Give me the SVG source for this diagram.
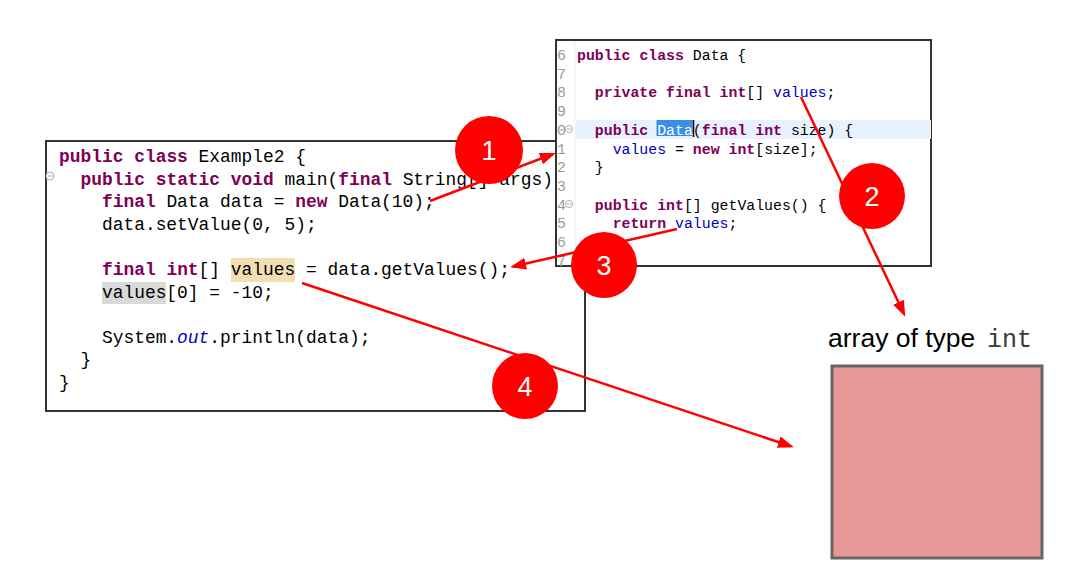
<svg xmlns="http://www.w3.org/2000/svg" width="1075" height="587" viewBox="0 0 1075 587">
<defs>
<style>
.box{fill:#fff;stroke:#333;stroke-width:2}
.cl{font-family:"Liberation Mono","DejaVu Sans Mono",monospace;font-size:17.9px;fill:#000}
.cr{font-family:"Liberation Mono","DejaVu Sans Mono",monospace;font-size:14.85px;fill:#000}
.ln{font-family:"Liberation Mono","DejaVu Sans Mono",monospace;font-size:14.85px;fill:#9a9a9a}
.k{fill:#7F0055;font-weight:bold}
.f{fill:#0000C0}
.fold{fill:#fff;stroke:#aab;stroke-width:1}
.con{stroke:#f00;stroke-width:2.5;fill:none;marker-end:url(#ah)}
.badge{fill:#f00}
.num{font-family:"Liberation Sans",Arial,sans-serif;font-size:27px;fill:#fff;text-anchor:middle}
</style>
<marker id="ah" markerUnits="userSpaceOnUse" viewBox="0 0 16 12" markerWidth="16" markerHeight="12" refX="13" refY="6" orient="auto">
<path d="M0,0 L16,6 L0,12 z" fill="#f00"/>
</marker>
<clipPath id="rclip"><rect x="556" y="40" width="375" height="226"/></clipPath>
</defs>

<g id="example2">
<rect class="box" x="46" y="141" width="539" height="270"/>
<rect x="231" y="258" width="64" height="24" fill="#F3DDB3"/>
<rect x="102" y="282" width="64" height="22" fill="#D9D9D9"/>
<g class="fold"><circle cx="50" cy="176" r="4"/><line x1="47.5" y1="176" x2="52.5" y2="176"/></g>
<text class="cl" xml:space="preserve" x="59" y="162"><tspan class="k">public</tspan> <tspan class="k">class</tspan> Example2 {</text>
<text class="cl" xml:space="preserve" x="59" y="184.6">  <tspan class="k">public</tspan> <tspan class="k">static</tspan> <tspan class="k">void</tspan> main(<tspan class="k">final</tspan> String[] args)</text>
<text class="cl" xml:space="preserve" x="59" y="207.2">    <tspan class="k">final</tspan> Data data = <tspan class="k">new</tspan> Data(10);</text>
<text class="cl" xml:space="preserve" x="59" y="229.8">    data.setValue(0, 5);</text>
<text class="cl" xml:space="preserve" x="59" y="275">    <tspan class="k">final</tspan> <tspan class="k">int</tspan>[] values = data.getValues();</text>
<text class="cl" xml:space="preserve" x="59" y="297.6">    values[0] = -10;</text>
<text class="cl" xml:space="preserve" x="59" y="342.8">    System.<tspan class="f" font-style="italic">out</tspan>.println(data);</text>
<text class="cl" xml:space="preserve" x="59" y="365.4">  }</text>
<text class="cl" xml:space="preserve" x="59" y="388">}</text>
</g>

<g id="data-class">
<rect class="box" x="556" y="40" width="375" height="226"/>
<g clip-path="url(#rclip)">
<line x1="575" y1="41" x2="575" y2="265" stroke="#ececec" stroke-width="1"/>
<rect x="576" y="120" width="355" height="19" fill="#E8F2FE"/>
<rect x="656.5" y="120" width="36" height="16" fill="#3A8EE6"/>
<line x1="693.5" y1="120" x2="693.5" y2="137" stroke="#000" stroke-width="1.5"/>
<text class="ln" x="557" y="60">6</text>
<text class="ln" x="557" y="78.7">7</text>
<text class="ln" x="557" y="97.4">8</text>
<text class="ln" x="557" y="116.1">9</text>
<text class="ln" x="557" y="134.8">0</text>
<text class="ln" x="557" y="153.5">1</text>
<text class="ln" x="557" y="172.2">2</text>
<text class="ln" x="557" y="190.9">3</text>
<text class="ln" x="557" y="209.6">4</text>
<text class="ln" x="557" y="228.3">5</text>
<text class="ln" x="557" y="247">6</text>
<text class="ln" x="557" y="265.7">7</text>
<g class="fold"><circle cx="569" cy="129" r="3.5"/><line x1="567" y1="129" x2="571" y2="129"/></g>
<g class="fold"><circle cx="569" cy="204" r="3.5"/><line x1="567" y1="204" x2="571" y2="204"/></g>
<text class="cr" xml:space="preserve" x="577" y="60"><tspan class="k">public</tspan> <tspan class="k">class</tspan> Data {</text>
<text class="cr" xml:space="preserve" x="577" y="97.4">  <tspan class="k">private</tspan> <tspan class="k">final</tspan> <tspan class="k">int</tspan>[] <tspan class="f">values</tspan>;</text>
<text class="cr" xml:space="preserve" x="577" y="134.8">  <tspan class="k">public</tspan> <tspan fill="#fff">Data</tspan>(<tspan class="k">final</tspan> <tspan class="k">int</tspan> size) {</text>
<text class="cr" xml:space="preserve" x="577" y="153.5">    <tspan class="f">values</tspan> = <tspan class="k">new</tspan> <tspan class="k">int</tspan>[size];</text>
<text class="cr" xml:space="preserve" x="577" y="172.2">  }</text>
<text class="cr" xml:space="preserve" x="577" y="209.6">  <tspan class="k">public</tspan> <tspan class="k">int</tspan>[] getValues() {</text>
<text class="cr" xml:space="preserve" x="577" y="228.3">    <tspan class="k">return</tspan> <tspan class="f">values</tspan>;</text>
</g>
</g>

<g id="connectors">
<line class="con" x1="430" y1="201" x2="553" y2="154"/>
<line class="con" x1="801" y1="97" x2="904" y2="314"/>
<line class="con" x1="677" y1="229" x2="513" y2="266.5"/>
<line class="con" x1="302" y1="283" x2="791" y2="446.3"/>
</g>

<g id="badge-1"><circle class="badge" cx="489" cy="150" r="34"/><text class="num" x="489" y="160">1</text></g>
<g id="badge-2"><circle class="badge" cx="872" cy="196" r="33"/><text class="num" x="872" y="206">2</text></g>
<g id="badge-3"><circle class="badge" cx="604" cy="265" r="33"/><text class="num" x="604" y="275">3</text></g>
<g id="badge-4"><circle class="badge" cx="525" cy="386" r="33"/><text class="num" x="525" y="396">4</text></g>

<g id="int-array">
<text x="828" y="347" font-family="'Liberation Sans',Arial,sans-serif" font-size="26.5" fill="#000">array of type <tspan x="987" font-family="'Liberation Mono','Courier New',monospace" font-size="25" fill="#3a3a3a">int</tspan></text>
<rect x="832" y="366" width="210" height="192" fill="#E99899" stroke="#666" stroke-width="3"/>
</g>
</svg>
